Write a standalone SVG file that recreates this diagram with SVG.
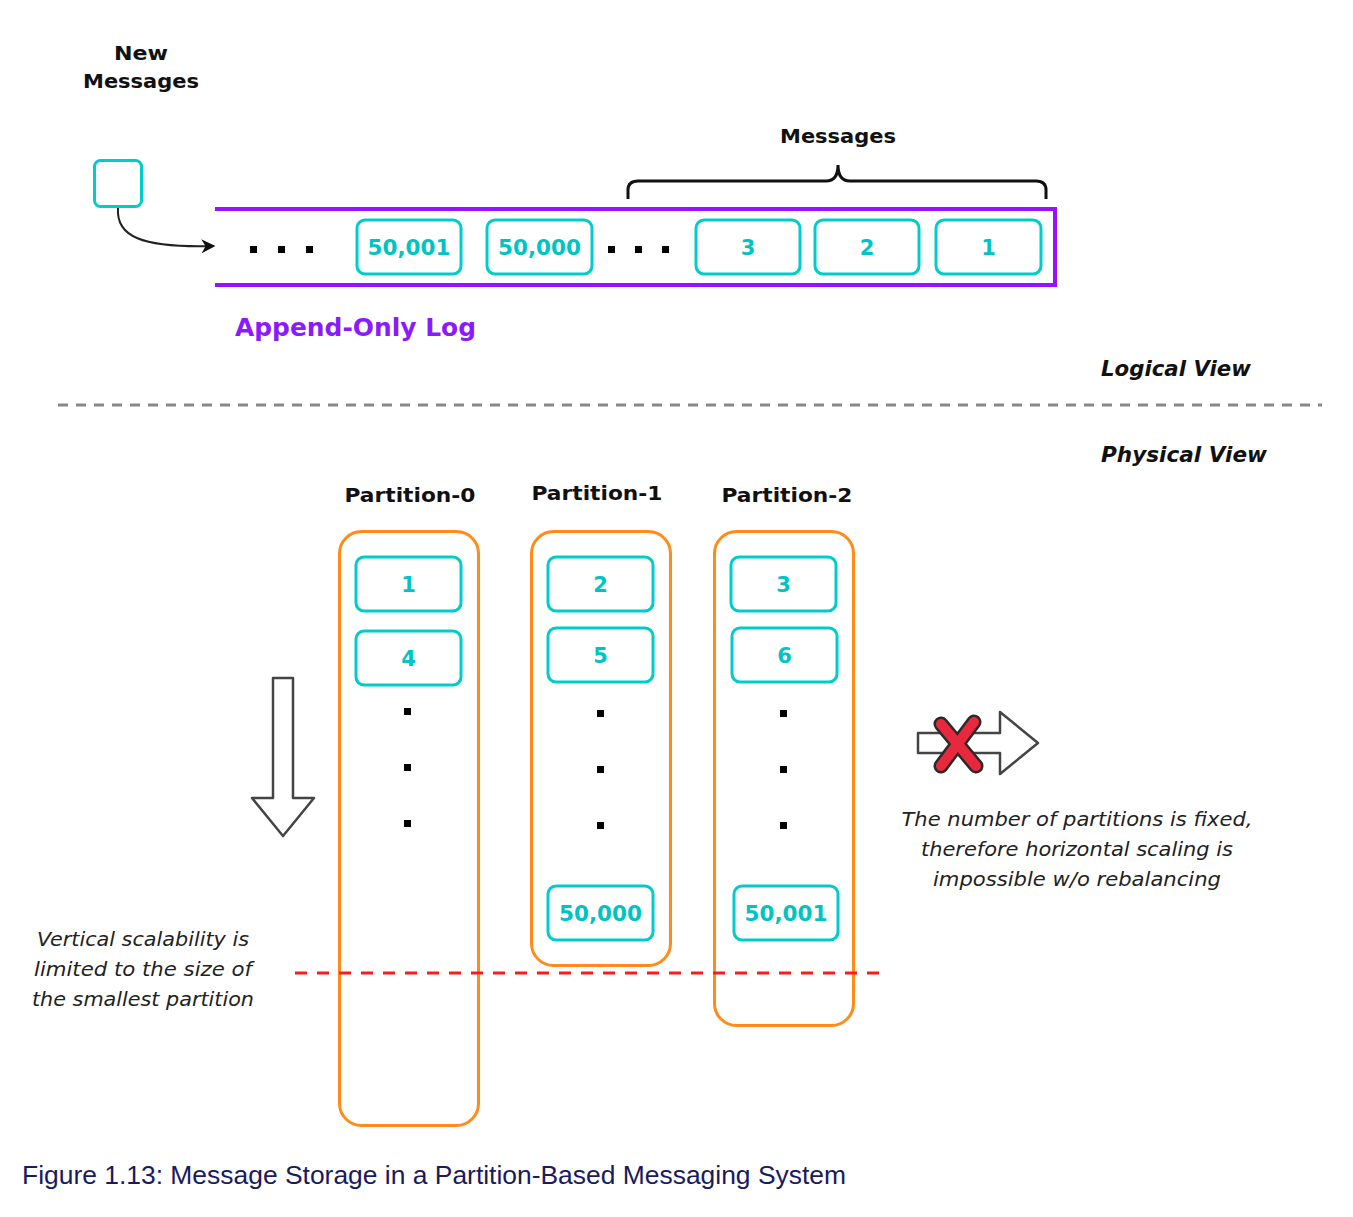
<svg xmlns="http://www.w3.org/2000/svg" width="1353" height="1217" viewBox="0 0 1353 1217">
<style>
.bg{fill:#fff}
.msg{fill:#fff;stroke:#00CCCC;stroke-width:3}
.msgt{font-family:"DejaVu Sans",Verdana,sans-serif;font-weight:bold;font-size:21px;fill:#00C4C4;text-anchor:middle}
.lbl{font-family:"DejaVu Sans",Verdana,sans-serif;font-weight:bold;font-size:20px;fill:#111;text-anchor:middle}
.part{fill:none;stroke:#FF8C1A;stroke-width:3}
.dot{fill:#000}
.ital{font-family:"DejaVu Sans",Verdana,sans-serif;font-style:italic;font-size:20px;fill:#222;text-anchor:middle}
.view{font-family:"DejaVu Sans",Verdana,sans-serif;font-style:italic;font-weight:bold;font-size:21px;fill:#111}
</style>
<defs>
<marker id="ah" viewBox="0 0 10 10" refX="9" refY="5" markerWidth="16" markerHeight="14" orient="auto" markerUnits="userSpaceOnUse">
<path d="M0,0 L10,5 L0,10 L3,5 Z" fill="#111"/>
</marker>
</defs>
<rect class="bg" x="0" y="0" width="1353" height="1217"/>

<g id="new-messages">
<text class="lbl" x="141" y="60" textLength="54" lengthAdjust="spacingAndGlyphs">New</text>
<text class="lbl" x="141" y="88" textLength="116" lengthAdjust="spacingAndGlyphs">Messages</text>
<rect class="msg" x="94.5" y="160.5" width="47" height="46" rx="6"/>
</g>

<g id="append-only-log">
<path d="M215,209 H1055 V285 H215" fill="none" stroke="#9911FF" stroke-width="4"/>
<rect class="dot" x="250" y="246" width="7" height="7"/>
<rect class="dot" x="278" y="246" width="7" height="7"/>
<rect class="dot" x="306" y="246" width="7" height="7"/>
<rect class="msg" x="357" y="220" width="104" height="54" rx="8"/>
<text class="msgt" x="409" y="255" textLength="83" lengthAdjust="spacingAndGlyphs">50,001</text>
<rect class="msg" x="487" y="220" width="105" height="54" rx="8"/>
<text class="msgt" x="539.5" y="255" textLength="83" lengthAdjust="spacingAndGlyphs">50,000</text>
<rect class="dot" x="608" y="246" width="7" height="7"/>
<rect class="dot" x="635" y="246" width="7" height="7"/>
<rect class="dot" x="662" y="246" width="7" height="7"/>
<rect class="msg" x="696" y="220" width="104" height="54" rx="8"/>
<text class="msgt" x="748" y="255">3</text>
<rect class="msg" x="815" y="220" width="104" height="54" rx="8"/>
<text class="msgt" x="867" y="255">2</text>
<rect class="msg" x="936" y="220" width="105" height="54" rx="8"/>
<text class="msgt" x="988.5" y="255">1</text>
<text x="235" y="336" font-family="'DejaVu Sans',Verdana,sans-serif" font-weight="bold" font-size="25" fill="#8C1AFF" textLength="241" lengthAdjust="spacingAndGlyphs">Append-Only Log</text>
</g>

<g id="messages-brace">
<path d="M628,199 V190 Q628,181 638,181 H826 Q838,181 838,165 Q838,181 850,181 H1036 Q1046,181 1046,190 V199" fill="none" stroke="#111" stroke-width="3"/>
<text class="lbl" x="838" y="143" textLength="116" lengthAdjust="spacingAndGlyphs">Messages</text>
</g>

<g id="views">
<text class="view" x="1101" y="376" textLength="150" lengthAdjust="spacingAndGlyphs">Logical View</text>
<line x1="58" y1="405" x2="1322" y2="405" stroke="#888" stroke-width="3" stroke-dasharray="10,8"/>
<text class="view" x="1101" y="462" textLength="166" lengthAdjust="spacingAndGlyphs">Physical View</text>
</g>

<g id="partition-0">
<text class="lbl" x="410" y="502" textLength="131" lengthAdjust="spacingAndGlyphs">Partition-0</text>
<rect class="part" x="339.5" y="531.5" width="139" height="594" rx="22"/>
<rect class="msg" x="356" y="557" width="105" height="54" rx="8"/>
<text class="msgt" x="408.5" y="592">1</text>
<rect class="msg" x="356" y="631" width="105" height="54" rx="8"/>
<text class="msgt" x="408.5" y="666">4</text>
<rect class="dot" x="404" y="708" width="7" height="7"/>
<rect class="dot" x="404" y="764" width="7" height="7"/>
<rect class="dot" x="404" y="820" width="7" height="7"/>
</g>

<g id="partition-1">
<text class="lbl" x="597" y="500" textLength="131" lengthAdjust="spacingAndGlyphs">Partition-1</text>
<rect class="part" x="531.5" y="531.5" width="139" height="434" rx="22"/>
<rect class="msg" x="548" y="557" width="105" height="54" rx="8"/>
<text class="msgt" x="600.5" y="592">2</text>
<rect class="msg" x="548" y="628" width="105" height="54" rx="8"/>
<text class="msgt" x="600.5" y="663">5</text>
<rect class="dot" x="597" y="710" width="7" height="7"/>
<rect class="dot" x="597" y="766" width="7" height="7"/>
<rect class="dot" x="597" y="822" width="7" height="7"/>
<rect class="msg" x="548" y="886" width="105" height="54" rx="8"/>
<text class="msgt" x="600.5" y="921" textLength="83" lengthAdjust="spacingAndGlyphs">50,000</text>
</g>

<g id="partition-2">
<text class="lbl" x="787" y="502" textLength="131" lengthAdjust="spacingAndGlyphs">Partition-2</text>
<rect class="part" x="714.5" y="531.5" width="139" height="494" rx="22"/>
<rect class="msg" x="731" y="557" width="105" height="54" rx="8"/>
<text class="msgt" x="783.5" y="592">3</text>
<rect class="msg" x="732" y="628" width="105" height="54" rx="8"/>
<text class="msgt" x="784.5" y="663">6</text>
<rect class="dot" x="780" y="710" width="7" height="7"/>
<rect class="dot" x="780" y="766" width="7" height="7"/>
<rect class="dot" x="780" y="822" width="7" height="7"/>
<rect class="msg" x="734" y="886" width="104" height="54" rx="8"/>
<text class="msgt" x="786" y="921" textLength="83" lengthAdjust="spacingAndGlyphs">50,001</text>
</g>

<g id="vertical-scaling">
<path d="M273,678 H293 V798 H314 L283,836 L252,798 H273 Z" fill="#fff" stroke="#444" stroke-width="2.5" stroke-linejoin="round"/>
<text class="ital" x="143" y="946" textLength="212" lengthAdjust="spacingAndGlyphs">Vertical scalability is</text>
<text class="ital" x="143" y="976" textLength="218" lengthAdjust="spacingAndGlyphs">limited to the size of</text>
<text class="ital" x="143" y="1006" textLength="222" lengthAdjust="spacingAndGlyphs">the smallest partition</text>
</g>

<g id="horizontal-scaling">
<path d="M918,733 H1000 V712 L1038,743 L1000,774 V753 H918 Z" fill="#fff" stroke="#444" stroke-width="2.5" stroke-linejoin="round"/>
<g stroke-linecap="round">
<line x1="941" y1="724" x2="976" y2="766" stroke="#2a2a2a" stroke-width="15"/>
<line x1="974" y1="722" x2="941" y2="766" stroke="#2a2a2a" stroke-width="15"/>
<line x1="941" y1="724" x2="976" y2="766" stroke="#E8283C" stroke-width="10"/>
<line x1="974" y1="722" x2="941" y2="766" stroke="#E8283C" stroke-width="10"/>
</g>
<text class="ital" x="1077" y="826" textLength="351" lengthAdjust="spacingAndGlyphs">The number of partitions is fixed,</text>
<text class="ital" x="1077" y="856" textLength="312" lengthAdjust="spacingAndGlyphs">therefore horizontal scaling is</text>
<text class="ital" x="1077" y="886" textLength="288" lengthAdjust="spacingAndGlyphs">impossible w/o rebalancing</text>
</g>

<g id="connectors">
<path d="M118,208 C116,236 140,248 214,246" fill="none" stroke="#222" stroke-width="2" marker-end="url(#ah)"/>
<line x1="295" y1="973" x2="886" y2="973" stroke="#FF1A1A" stroke-width="3" stroke-dasharray="12,10"/>
</g>

<text x="22" y="1184" font-family="'Liberation Sans',Arial,sans-serif" font-size="25" fill="#1A1A5E" textLength="824" lengthAdjust="spacingAndGlyphs">Figure 1.13: Message Storage in a Partition-Based Messaging System</text>
</svg>
